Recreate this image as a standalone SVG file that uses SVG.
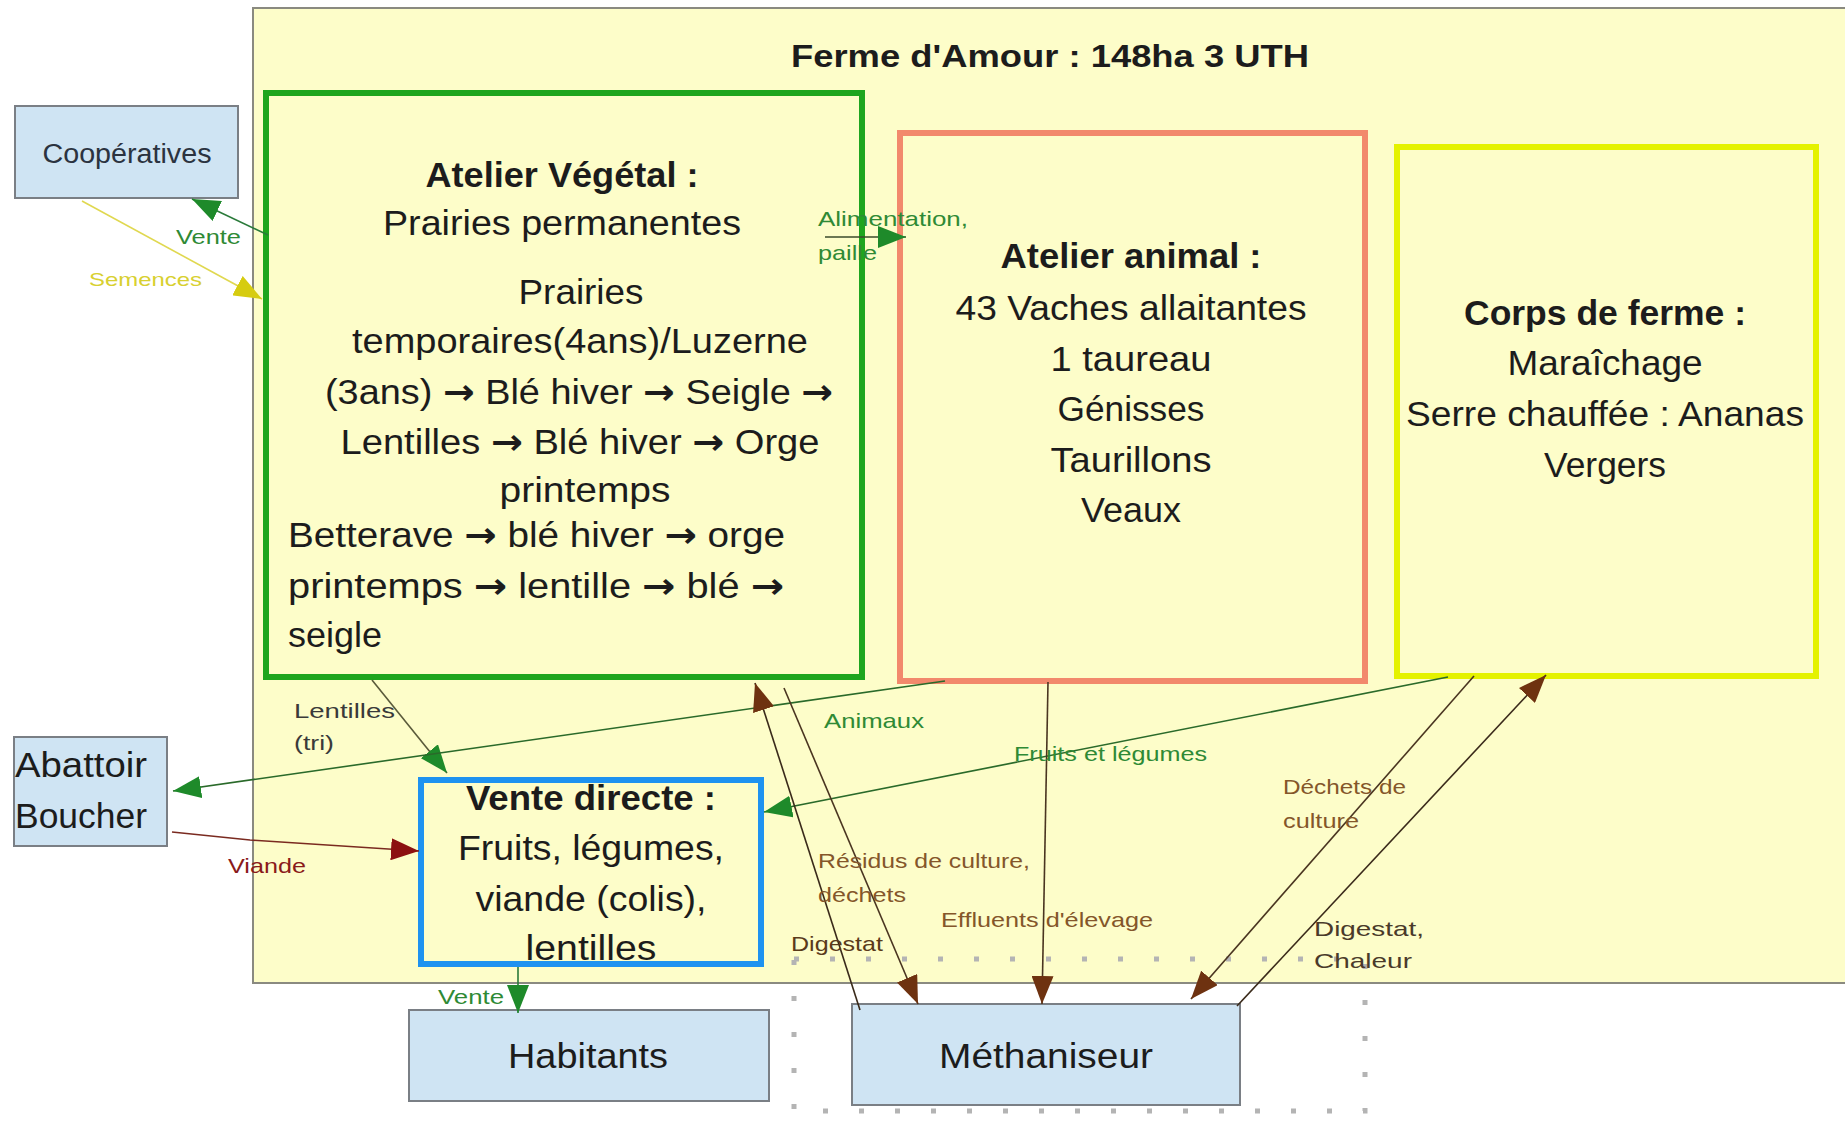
<svg xmlns="http://www.w3.org/2000/svg" width="1845" height="1124" viewBox="0 0 1845 1124">
<style>
text{font-family:"Liberation Sans",Arial,sans-serif;fill:#1c1c1c}
.big{font-size:35px}
.b{font-weight:bold}
.c{text-anchor:middle}
.lbl{font-size:21px}
.g{fill:#2f8a35}
.br{fill:#84562a}
.dk{fill:#3a3a3a}
.ar{font-family:"DejaVu Sans",sans-serif;font-weight:bold}
.ext{fill:#cfe4f3;stroke:#7a7f85;stroke-width:2}
.ln{fill:none;stroke-width:1.6}
</style>
<defs>
<marker id="ag" markerUnits="userSpaceOnUse" markerWidth="28" markerHeight="22" refX="28" refY="11" orient="auto"><path d="M0,0 L28,11 L0,22 z" fill="#1e8a2a"/></marker>
<marker id="ab" markerUnits="userSpaceOnUse" markerWidth="28" markerHeight="22" refX="28" refY="11" orient="auto"><path d="M0,0 L28,11 L0,22 z" fill="#6e3210"/></marker>
<marker id="ar" markerUnits="userSpaceOnUse" markerWidth="28" markerHeight="22" refX="28" refY="11" orient="auto"><path d="M0,0 L28,11 L0,22 z" fill="#8c1010"/></marker>
<marker id="ay" markerUnits="userSpaceOnUse" markerWidth="28" markerHeight="22" refX="28" refY="11" orient="auto"><path d="M0,0 L28,11 L0,22 z" fill="#d6cc10"/></marker>
</defs>
<rect width="1845" height="1124" fill="#ffffff"/>

<g id="ferme">
<rect x="253" y="8" width="1600" height="975" fill="#fdfdc9" stroke="#8a8a80" stroke-width="2"/>
<text x="1050" y="67" class="b c" font-size="32" textLength="518" lengthAdjust="spacingAndGlyphs">Ferme d'Amour : 148ha 3 UTH</text>
</g>

<rect x="794" y="959" width="571" height="152" fill="none" stroke="#b4b4b4" stroke-width="5" stroke-dasharray="5 31"/>

<g id="atelier-vegetal">
<rect x="266" y="93" width="596" height="584" fill="none" stroke="#1ea51e" stroke-width="6"/>
<text x="562" y="187" class="big b c" textLength="273" lengthAdjust="spacingAndGlyphs">Atelier Végétal :</text>
<text x="562" y="235" class="big c" textLength="358" lengthAdjust="spacingAndGlyphs">Prairies permanentes</text>
<text x="581" y="304" class="big c" textLength="125" lengthAdjust="spacingAndGlyphs">Prairies</text>
<text x="580" y="353" class="big c" textLength="456" lengthAdjust="spacingAndGlyphs">temporaires(4ans)/Luzerne</text>
<text x="579" y="404" class="big c" textLength="508" lengthAdjust="spacingAndGlyphs">(3ans) <tspan class="ar">→</tspan> Blé hiver <tspan class="ar">→</tspan> Seigle <tspan class="ar">→</tspan></text>
<text x="580" y="454" class="big c" textLength="479" lengthAdjust="spacingAndGlyphs">Lentilles <tspan class="ar">→</tspan> Blé hiver <tspan class="ar">→</tspan> Orge</text>
<text x="585" y="502" class="big c" textLength="171" lengthAdjust="spacingAndGlyphs">printemps</text>
<text x="288" y="547" class="big" textLength="497" lengthAdjust="spacingAndGlyphs">Betterave <tspan class="ar">→</tspan> blé hiver <tspan class="ar">→</tspan> orge</text>
<text x="288" y="598" class="big" textLength="496" lengthAdjust="spacingAndGlyphs">printemps <tspan class="ar">→</tspan> lentille <tspan class="ar">→</tspan> blé <tspan class="ar">→</tspan></text>
<text x="288" y="647" class="big" textLength="94" lengthAdjust="spacingAndGlyphs">seigle</text>
</g>

<g id="atelier-animal">
<rect x="900" y="133" width="465" height="548" fill="none" stroke="#f2896c" stroke-width="6"/>
<text x="1131" y="268" class="big b c" textLength="261" lengthAdjust="spacingAndGlyphs">Atelier animal :</text>
<text x="1131" y="320" class="big c" textLength="351" lengthAdjust="spacingAndGlyphs">43 Vaches allaitantes</text>
<text x="1131" y="371" class="big c" textLength="161" lengthAdjust="spacingAndGlyphs">1 taureau</text>
<text x="1131" y="421" class="big c" textLength="147" lengthAdjust="spacingAndGlyphs">Génisses</text>
<text x="1131" y="472" class="big c" textLength="161" lengthAdjust="spacingAndGlyphs">Taurillons</text>
<text x="1131" y="522" class="big c" textLength="100" lengthAdjust="spacingAndGlyphs">Veaux</text>
</g>

<g id="corps-de-ferme">
<rect x="1397" y="147" width="419" height="529" fill="none" stroke="#e4f200" stroke-width="6"/>
<text x="1605" y="325" class="big b c" textLength="282" lengthAdjust="spacingAndGlyphs">Corps de ferme :</text>
<text x="1605" y="375" class="big c" textLength="195" lengthAdjust="spacingAndGlyphs">Maraîchage</text>
<text x="1605" y="426" class="big c" textLength="398" lengthAdjust="spacingAndGlyphs">Serre chauffée : Ananas</text>
<text x="1605" y="477" class="big c" textLength="122" lengthAdjust="spacingAndGlyphs">Vergers</text>
</g>

<g id="vente-directe">
<rect x="421" y="780" width="340" height="184" fill="none" stroke="#1e92f0" stroke-width="6"/>
<text x="591" y="810" class="big b c" textLength="250" lengthAdjust="spacingAndGlyphs">Vente directe :</text>
<text x="591" y="860" class="big c" textLength="266" lengthAdjust="spacingAndGlyphs">Fruits, légumes,</text>
<text x="591" y="911" class="big c" textLength="231" lengthAdjust="spacingAndGlyphs">viande (colis),</text>
<text x="591" y="960" class="big c" textLength="131" lengthAdjust="spacingAndGlyphs">lentilles</text>
</g>

<g id="cooperatives">
<rect x="15" y="106" width="223" height="92" class="ext"/>
<text x="127" y="163" class="c" font-size="27" style="fill:#2b3340" textLength="169" lengthAdjust="spacingAndGlyphs">Coopératives</text>
</g>

<g id="abattoir">
<rect x="14" y="737" width="153" height="109" class="ext"/>
<text x="15" y="777" class="big" textLength="132" lengthAdjust="spacingAndGlyphs">Abattoir</text>
<text x="15" y="828" class="big" textLength="132" lengthAdjust="spacingAndGlyphs">Boucher</text>
</g>

<g id="habitants">
<rect x="409" y="1010" width="360" height="91" class="ext"/>
<text x="588" y="1068" class="big c" textLength="160" lengthAdjust="spacingAndGlyphs">Habitants</text>
</g>

<g id="methaniseur">
<rect x="852" y="1004" width="388" height="101" class="ext"/>
<text x="1046" y="1068" class="big c" textLength="214" lengthAdjust="spacingAndGlyphs">Méthaniseur</text>
</g>

<g id="connecteurs">
<line x1="268" y1="235" x2="192" y2="199" class="ln" stroke="#2a7a3a" marker-end="url(#ag)"/>
<line x1="82" y1="201" x2="262" y2="299" class="ln" stroke="#e0d850" marker-end="url(#ay)"/>
<line x1="825" y1="237" x2="906" y2="237" class="ln" stroke="#3a4a2a" marker-end="url(#ag)"/>
<line x1="372" y1="680" x2="447" y2="773" class="ln" stroke="#5a5a3a" marker-end="url(#ag)"/>
<line x1="945" y1="681" x2="173" y2="791" class="ln" stroke="#2a6a2a" marker-end="url(#ag)"/>
<line x1="1448" y1="677" x2="764" y2="812" class="ln" stroke="#2a6a2a" marker-end="url(#ag)"/>
<polyline points="172,832 250,840 419,851" class="ln" stroke="#7a2a20" marker-end="url(#ar)"/>
<line x1="518" y1="967" x2="518" y2="1013" class="ln" stroke="#2a7a3a" marker-end="url(#ag)"/>
<line x1="860" y1="1010" x2="755" y2="683" class="ln" stroke="#3a2a1a" marker-end="url(#ab)"/>
<line x1="784" y1="688" x2="918" y2="1004" class="ln" stroke="#4a3520" marker-end="url(#ab)"/>
<line x1="1048" y1="682" x2="1042" y2="1004" class="ln" stroke="#4a3520" marker-end="url(#ab)"/>
<line x1="1474" y1="676" x2="1191" y2="999" class="ln" stroke="#4a3520" marker-end="url(#ab)"/>
<line x1="1237" y1="1006" x2="1546" y2="675" class="ln" stroke="#3a2a1a" marker-end="url(#ab)"/>

<text x="176" y="244" class="lbl g" textLength="65" lengthAdjust="spacingAndGlyphs">Vente</text>
<text x="89" y="286" font-size="19" style="fill:#d8d030" textLength="113" lengthAdjust="spacingAndGlyphs">Semences</text>
<text x="818" y="226" class="lbl g" textLength="150" lengthAdjust="spacingAndGlyphs">Alimentation,</text>
<text x="818" y="260" class="lbl g" textLength="59" lengthAdjust="spacingAndGlyphs">paille</text>
<text x="294" y="718" class="lbl dk" textLength="101" lengthAdjust="spacingAndGlyphs">Lentilles</text>
<text x="294" y="750" class="lbl dk" textLength="40" lengthAdjust="spacingAndGlyphs">(tri)</text>
<text x="824" y="728" class="lbl g" textLength="100" lengthAdjust="spacingAndGlyphs">Animaux</text>
<text x="1014" y="761" class="lbl g" textLength="193" lengthAdjust="spacingAndGlyphs">Fruits et légumes</text>
<text x="1283" y="794" class="lbl br" textLength="123" lengthAdjust="spacingAndGlyphs">Déchets de</text>
<text x="1283" y="828" class="lbl br" textLength="76" lengthAdjust="spacingAndGlyphs">culture</text>
<text x="228" y="873" class="lbl" style="fill:#8a1a1a" textLength="78" lengthAdjust="spacingAndGlyphs">Viande</text>
<text x="818" y="868" class="lbl br" textLength="212" lengthAdjust="spacingAndGlyphs">Résidus de culture,</text>
<text x="818" y="902" class="lbl br" textLength="88" lengthAdjust="spacingAndGlyphs">déchets</text>
<text x="941" y="927" class="lbl br" textLength="212" lengthAdjust="spacingAndGlyphs">Effluents d'élevage</text>
<text x="791" y="951" class="lbl" style="fill:#5a3a1a" textLength="92" lengthAdjust="spacingAndGlyphs">Digestat</text>
<text x="1314" y="936" class="lbl" style="fill:#4a3a2a" font-size="23" textLength="110" lengthAdjust="spacingAndGlyphs">Digestat,</text>
<text x="1314" y="968" class="lbl" style="fill:#4a3a2a" font-size="23" textLength="98" lengthAdjust="spacingAndGlyphs">Chaleur</text>
<text x="438" y="1004" class="lbl g" textLength="66" lengthAdjust="spacingAndGlyphs">Vente</text>
</g>
</svg>
